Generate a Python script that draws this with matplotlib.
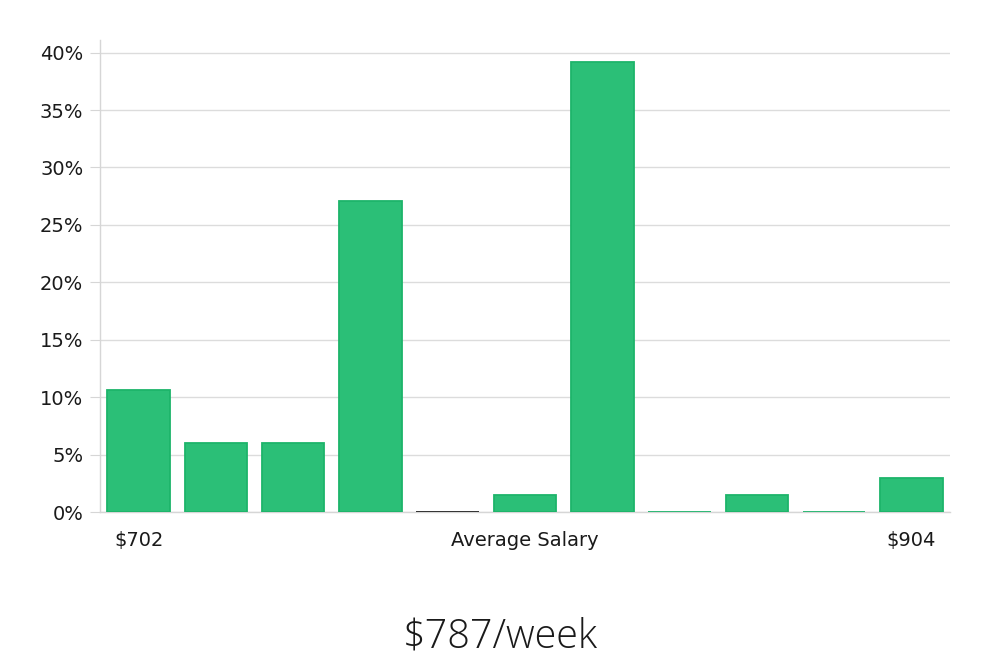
import matplotlib.pyplot as plt
from matplotlib.ticker import FuncFormatter

# share of workers per salary bin (percent)
shares = [10.6, 6.0, 6.0, 27.1, 0.0, 1.5, 39.2, 0.0, 1.5, 0.0, 3.0]
edge_colors = ['#1db46a'] * 11
edge_colors[4] = '#222222'
tick_pos = [0, 5, 10]
tick_labels = ['$702', 'Average Salary', '$904']
title = '$787/week'
y_ticks = [0, 5, 10, 15, 20, 25, 30, 35, 40]


def main():
    plt.rcParams['font.family'] = 'DejaVu Sans'
    fig = plt.figure(figsize=(10, 6.6), dpi=100)
    ax = fig.add_axes([0.1, 0.2242, 0.85, 0.7152])

    ax.bar(range(len(shares)), shares, width=0.81, color='#2bbf77',
           edgecolor=edge_colors, linewidth=1.3, zorder=3)

    ax.set_xlim(-0.5, len(shares) - 0.5)
    ax.set_ylim(0, 41.1)
    ax.set_yticks(y_ticks)
    ax.yaxis.set_major_formatter(FuncFormatter(lambda v, p: f'{v:.0f}%'))
    ax.set_xticks(tick_pos)
    ax.set_xticklabels(tick_labels)

    ax.grid(axis='y', color='#dcdcdc', linewidth=1, zorder=0)
    for s in ['top', 'right']:
        ax.spines[s].set_visible(False)
    for s in ['left', 'bottom']:
        ax.spines[s].set_color('#d6d6d6')
        ax.spines[s].set_linewidth(1)

    ax.tick_params(axis='y', length=7, color='#d6d6d6', labelsize=14,
                   labelcolor='#1a1a1a', pad=5)
    ax.tick_params(axis='x', length=0, labelsize=14, labelcolor='#1a1a1a',
                   pad=14)

    fig.text(0.5, 0.019, title, ha='center', va='baseline', fontsize=28.5,
             family='Open Sans', fontweight='light', color='#1a1a1a')

    plt.savefig('out.png')


if __name__ == '__main__':
    main()
